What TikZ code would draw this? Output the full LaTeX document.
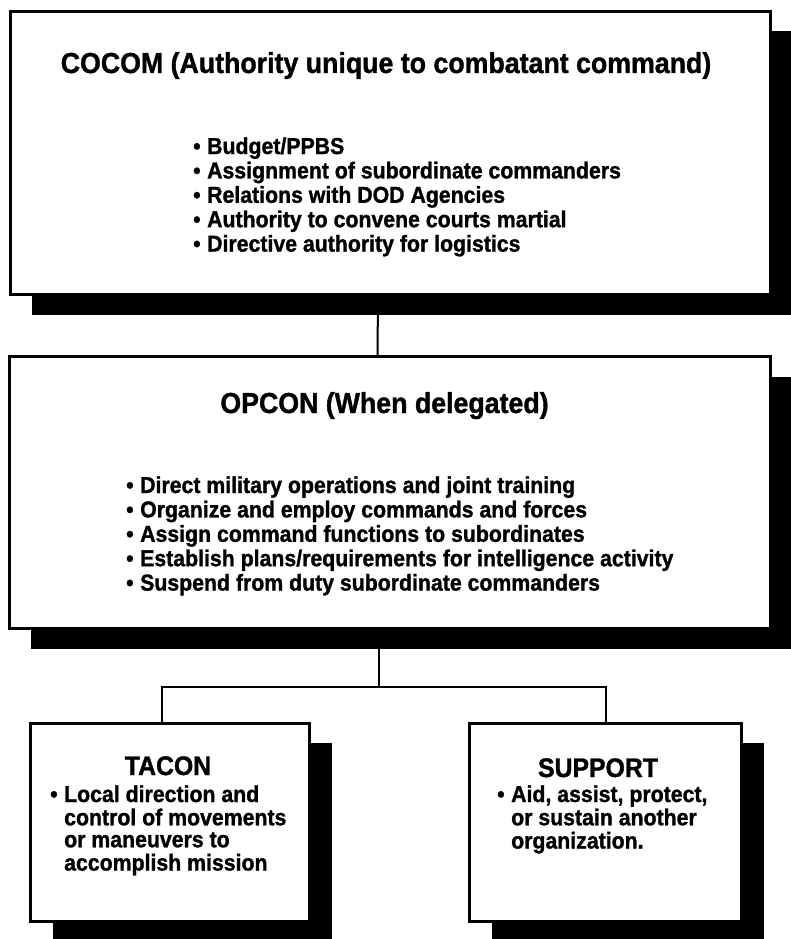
\documentclass[tikz,border=0pt]{standalone}
\usepackage{fontspec}
\setmainfont{Liberation Sans}[FakeStretch=0.925, BoldFeatures={FakeBold=1.2}]
\usetikzlibrary{shadows}
\newcommand{\bul}{\makebox[14pt][l]{\textbullet}}
\newcommand{\nobul}{\hspace*{14pt}}
\begin{document}
\begin{tikzpicture}%
	[x=1pt, y=-1pt,
	box/.style={draw=black, line width=3pt, fill=white, inner sep=0pt,
		drop shadow={shadow xshift=22pt, shadow yshift=-20pt, fill=black, opacity=1}},
	link/.style={draw=black, line width=2pt},
	bigtitle/.style={font=\bfseries\fontsize{28.9}{32}\selectfont, inner sep=0pt, anchor=base},
	smalltitle/.style={font=\bfseries\fontsize{26.8}{30}\selectfont, inner sep=0pt, anchor=base},
	biglist/.style={font=\bfseries\fontsize{23}{24.4}\selectfont, inner sep=0pt, anchor=base west},
	smalllist/.style={font=\bfseries\fontsize{23}{22}\selectfont, inner sep=0pt, anchor=base west}]
%
\path[fill=white, use as bounding box] (0,0) rectangle (791,939);
%%
%% Drawing the boxes
%%
\node[box, minimum width=760pt, minimum height=283pt] (cocom) at (390,153) {};
\node[box, minimum width=761pt, minimum height=272pt] (opcon) at (389.5,492.5) {};
\node[box, minimum width=279pt, minimum height=198pt] (tacon) at (170,822) {};
\node[box, minimum width=272pt, minimum height=198pt] (support) at (605.5,822) {};
%%
%% Drawing the connectors
%%
\coordinate (fork) at (379,687);
\draw[link] ([xshift=-12pt]cocom.south) -- ([xshift=-12pt]opcon.north);
\draw[link] (fork |- opcon.south) -- (fork);
\draw[link] ([xshift=-8pt]tacon.north) |- (fork) -| (support.north);
%%
%% Drawing the texts
%%
\node[bigtitle] (cocomtitle) at (386,73) {COCOM (Authority unique to combatant command)};
\node[biglist] (cocomlist) at (193,154) {\begin{tabular}[t]{@{}l@{}}
\bul Budget/PPBS\\
\bul Assignment of subordinate commanders\\
\bul Relations with DOD Agencies\\
\bul Authority to convene courts martial\\
\bul Directive authority for logistics
\end{tabular}};
%
\node[bigtitle] (opcontitle) at (384.5,413) {OPCON (When delegated)};
\node[biglist] (opconlist) at (126,493) {\begin{tabular}[t]{@{}l@{}}
\bul Direct military operations and joint training\\
\bul Organize and employ commands and forces\\
\bul Assign command functions to subordinates\\
\bul Establish plans/requirements for intelligence activity\\
\bul Suspend from duty subordinate commanders
\end{tabular}};
%
\node[smalltitle] (tacontitle) at (168,775) {TACON};
\node[smalllist] (taconlist) at (50,802) {\begin{tabular}[t]{@{}l@{}}
\bul Local direction and\\
\nobul control of movements\\
\nobul or maneuvers to\\
\nobul accomplish mission
\end{tabular}};
%
\node[smalltitle] (supporttitle) at (598,777) {SUPPORT};
\node[smalllist] (supportlist) at (497,802) {\begin{tabular}[t]{@{}l@{}}
\bul Aid, assist, protect,\\
\nobul or sustain another\\
\nobul organization.
\end{tabular}};
\end{tikzpicture}
\end{document}
